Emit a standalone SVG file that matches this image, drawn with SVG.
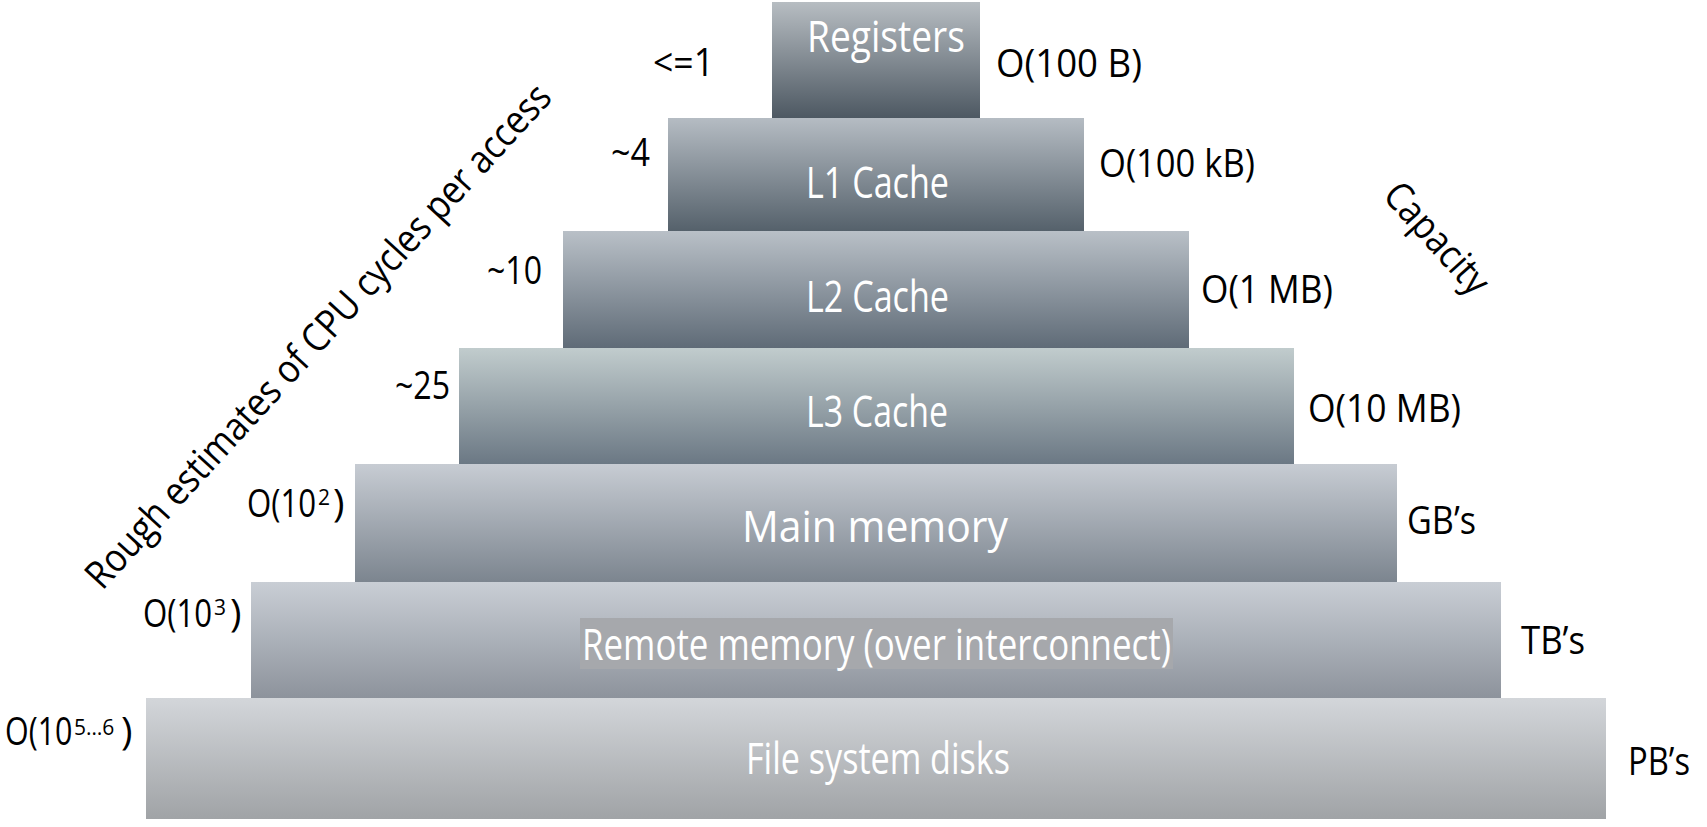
<svg xmlns="http://www.w3.org/2000/svg" width="1707" height="827" viewBox="0 0 1707 827">
<defs>
<linearGradient id="gReg" x1="0" y1="0" x2="0" y2="1"><stop offset="0" stop-color="#b7bdc2"/><stop offset="1" stop-color="#4d5862"/></linearGradient>
<linearGradient id="gL1" x1="0" y1="0" x2="0" y2="1"><stop offset="0" stop-color="#b5bcc3"/><stop offset="1" stop-color="#55616b"/></linearGradient>
<linearGradient id="gL2" x1="0" y1="0" x2="0" y2="1"><stop offset="0" stop-color="#b9c0c7"/><stop offset="1" stop-color="#5f6b77"/></linearGradient>
<linearGradient id="gL3" x1="0" y1="0" x2="0" y2="1"><stop offset="0" stop-color="#c1cccd"/><stop offset="1" stop-color="#6b7884"/></linearGradient>
<linearGradient id="gMain" x1="0" y1="0" x2="0" y2="1"><stop offset="0" stop-color="#c7ccd3"/><stop offset="1" stop-color="#7c858f"/></linearGradient>
<linearGradient id="gRem" x1="0" y1="0" x2="0" y2="1"><stop offset="0" stop-color="#c9ced5"/><stop offset="1" stop-color="#8d939c"/></linearGradient>
<linearGradient id="gFS" x1="0" y1="0" x2="0" y2="1"><stop offset="0" stop-color="#d3d6da"/><stop offset="1" stop-color="#a0a3a6"/></linearGradient>
</defs>
<style>
text { font-family: "Open Sans", "Noto Sans", "Liberation Sans", sans-serif; }
.lbl { fill: #ffffff; font-size: 44px; }
.side { fill: #000000; font-size: 39px; }
.sup { fill: #000000; font-size: 21px; }
.axis { fill: #000000; font-size: 39px; }
</style>
<rect x="0" y="0" width="1707" height="827" fill="#ffffff"/>

<g id="registers">
<rect x="772" y="2" width="208" height="116" fill="url(#gReg)"/>
<text class="lbl" x="807" y="52" font-size="40" textLength="158" lengthAdjust="spacingAndGlyphs">Registers</text>
</g>
<g id="l1-cache">
<rect x="668" y="118" width="416" height="113" fill="url(#gL1)"/>
<text class="lbl" x="806" y="198" textLength="143" lengthAdjust="spacingAndGlyphs">L1 Cache</text>
</g>
<g id="l2-cache">
<rect x="563" y="231" width="626" height="117" fill="url(#gL2)"/>
<text class="lbl" x="806" y="312" textLength="143" lengthAdjust="spacingAndGlyphs">L2 Cache</text>
</g>
<g id="l3-cache">
<rect x="459" y="348" width="835" height="116" fill="url(#gL3)"/>
<text class="lbl" x="806" y="427" textLength="142" lengthAdjust="spacingAndGlyphs">L3 Cache</text>
</g>
<g id="main-memory">
<rect x="355" y="464" width="1042" height="118" fill="url(#gMain)"/>
<text class="lbl" x="742" y="542" textLength="266" lengthAdjust="spacingAndGlyphs">Main memory</text>
</g>
<g id="remote-memory">
<rect x="251" y="582" width="1250" height="116" fill="url(#gRem)"/>
<rect x="580" y="618" width="593" height="51" fill="#a6a8ac"/>
<text class="lbl" x="582" y="660" textLength="589" lengthAdjust="spacingAndGlyphs">Remote memory (over interconnect)</text>
</g>
<g id="file-system-disks">
<rect x="146" y="698" width="1460" height="121" fill="url(#gFS)"/>
<text class="lbl" x="746" y="774" textLength="264" lengthAdjust="spacingAndGlyphs">File system disks</text>
</g>

<g id="latency-labels">
<text class="side" x="653" y="76" textLength="61" lengthAdjust="spacingAndGlyphs">&lt;=1</text>
<text class="side" x="611" y="166" textLength="39" lengthAdjust="spacingAndGlyphs">~4</text>
<text class="side" x="487" y="284" textLength="55" lengthAdjust="spacingAndGlyphs">~10</text>
<text class="side" x="395" y="399" textLength="55" lengthAdjust="spacingAndGlyphs">~25</text>
<text class="side" transform="translate(247 517) scale(0.8 1)">O(10</text>
<text class="sup" x="318" y="505">2</text>
<text class="side" x="333" y="517">)</text>
<text class="side" transform="translate(143 627) scale(0.8 1)">O(10</text>
<text class="sup" x="214" y="615">3</text>
<text class="side" x="230" y="627">)</text>
<text class="side" transform="translate(5 745) scale(0.78 1)">O(10</text>
<text class="sup" x="74" y="735">5…6</text>
<text class="side" x="121" y="745">)</text>
</g>

<g id="capacity-labels">
<text class="side" x="996" y="77" textLength="146" lengthAdjust="spacingAndGlyphs">O(100 B)</text>
<text class="side" x="1099" y="177" textLength="156" lengthAdjust="spacingAndGlyphs">O(100 kB)</text>
<text class="side" x="1201" y="303" textLength="132" lengthAdjust="spacingAndGlyphs">O(1 MB)</text>
<text class="side" x="1308" y="422" textLength="153" lengthAdjust="spacingAndGlyphs">O(10 MB)</text>
<text class="side" x="1407" y="534" textLength="69" lengthAdjust="spacingAndGlyphs">GB’s</text>
<text class="side" x="1521" y="654" textLength="64" lengthAdjust="spacingAndGlyphs">TB’s</text>
<text class="side" x="1628" y="775" textLength="62" lengthAdjust="spacingAndGlyphs">PB’s</text>
</g>

<g id="axis-titles">
<text class="axis" transform="translate(328,345) rotate(-47.5)" x="0" y="0" text-anchor="middle" textLength="668" lengthAdjust="spacingAndGlyphs">Rough estimates of CPU cycles per access</text>
<text class="axis" font-size="37" transform="translate(1427,247) rotate(48)" x="0" y="0" text-anchor="middle" textLength="136" lengthAdjust="spacingAndGlyphs">Capacity</text>
</g>

<g id="connectors"></g>
</svg>
